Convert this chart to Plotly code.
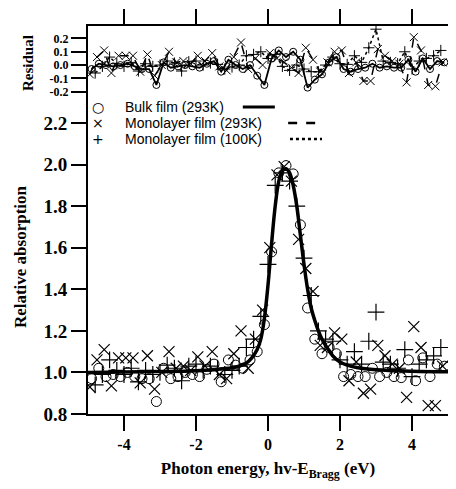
import plotly.graph_objects as go

# ---------------- data ----------------
bulk_x = [-4.9, -4.7, -4.5, -4.3, -4.1, -3.9, -3.7, -3.5, -3.3, -3.1,
          -2.9, -2.7, -2.5, -2.3, -2.1, -1.9, -1.7, -1.5, -1.3, -1.1,
          -0.9, -0.7, -0.5, -0.3, -0.1, 0.1, 0.3, 0.5, 0.7, 0.9,
          1.1, 1.3, 1.5, 1.7, 1.9, 2.1, 2.3, 2.5, 2.7, 2.9,
          3.1, 3.3, 3.5, 3.7, 3.9, 4.1, 4.3, 4.5, 4.7, 4.9]
bulk_y = [0.97, 1.02, 0.98, 0.99, 0.98, 1.00, 0.98, 0.97, 0.97, 0.86,
          1.02, 0.97, 0.98, 1.00, 0.99, 0.98, 1.015, 1.04, 0.955, 1.06,
          1.035, 1.02, 1.06, 1.10, 1.23, 1.58, 1.96, 1.995, 1.955, 1.71,
          1.31, 1.16, 1.09, 1.12, 1.09, 0.98, 0.99, 0.98, 0.98, 1.02,
          0.98, 1.00, 0.98, 0.975, 1.06, 0.96, 1.07, 0.98, 1.04, 1.03]
bulk_res = [-0.03, 0.01, 0.00, -0.01, 0.00, 0.01, -0.01, -0.03, -0.03, -0.15,
            0.02, -0.02, -0.01, 0.00, -0.01, -0.02, 0.01, 0.03, -0.05, 0.04,
            0.00, -0.03, 0.00, -0.08, -0.15, 0.05, 0.11, 0.06, 0.10, 0.04,
            -0.17, -0.11, -0.07, 0.02, 0.06, -0.03, -0.05, -0.03, -0.02, 0.01,
            -0.02, -0.01, -0.02, -0.02, 0.04, -0.05, 0.05, -0.03, 0.03, 0.02]

mono293_x = [-4.95, -4.75, -4.55, -4.35, -4.15, -3.95, -3.75, -3.55, -3.35, -3.15,
             -2.95, -2.75, -2.55, -2.35, -2.15, -1.95, -1.75, -1.55, -1.35, -1.15,
             -0.95, -0.75, -0.55, -0.35, -0.15, 0.05, 0.25, 0.45, 0.65, 0.85,
             1.05, 1.25, 1.45, 1.65, 1.85, 2.05, 2.25, 2.45, 2.65, 2.85,
             3.05, 3.25, 3.45, 3.65, 3.85, 4.05, 4.25, 4.45, 4.65, 4.85]
mono293_y = [0.93, 1.06, 1.11, 0.935, 1.07, 1.07, 1.07, 0.95, 1.08, 0.92,
             1.00, 1.10, 1.02, 1.03, 1.01, 1.075, 1.03, 1.10, 0.99, 0.97,
             1.09, 1.20, 1.02, 1.16, 1.30, 1.60, 1.95, 1.99, 1.92, 1.64,
             1.50, 1.39, 1.13, 1.12, 1.19, 1.16, 0.96, 1.05, 0.90, 0.92,
             1.13, 1.08, 1.04, 1.02, 0.88, 1.22, 1.12, 0.84, 0.84, 1.03]
mono293_res = [-0.07, 0.06, 0.11, -0.06, 0.07, 0.07, 0.07, -0.05, 0.08, -0.08,
               0.00, 0.10, 0.02, 0.03, 0.01, 0.07, 0.03, 0.09, -0.01, -0.04,
               0.06, 0.17, -0.03, 0.05, 0.00, 0.09, 0.05, 0.02, -0.02, -0.06,
               0.13, 0.04, -0.05, 0.02, 0.10, 0.11, -0.06, 0.02, -0.12, -0.12,
               0.12, 0.07, 0.03, 0.01, -0.13, 0.21, 0.11, -0.15, -0.16, 0.02]

mono100_x = [-4.8, -4.6, -4.4, -4.2, -4.0, -3.8, -3.6, -3.4, -3.2, -3.0,
             -2.8, -2.6, -2.4, -2.2, -2.0, -1.8, -1.6, -1.4, -1.2, -1.0,
             -0.8, -0.6, -0.4, -0.2, 0.0, 0.2, 0.4, 0.6, 0.8, 1.0,
             1.2, 1.4, 1.6, 1.8, 2.0, 2.2, 2.4, 2.6, 2.8, 3.0,
             3.2, 3.4, 3.6, 3.8, 4.0, 4.2, 4.4, 4.6, 4.8]
mono100_y = [0.94, 0.99, 1.06, 1.01, 0.99, 1.02, 0.955, 1.01, 0.99, 1.00,
             1.035, 1.02, 0.96, 1.03, 1.04, 1.01, 1.03, 1.02, 0.99, 1.01,
             1.03, 1.12, 1.16, 1.27, 1.52, 1.90, 1.96, 1.92, 1.80, 1.55,
             1.37, 1.20, 1.16, 1.15, 1.06, 1.04, 1.10, 1.04, 1.15, 1.29,
             1.05, 1.04, 1.02, 1.11, 0.98, 1.04, 1.06, 1.08, 1.12]
mono100_res = [-0.06, -0.01, 0.06, 0.01, -0.01, 0.02, -0.045, 0.01, -0.01, 0.00,
               0.03, 0.015, -0.045, 0.025, 0.03, 0.00, 0.015, 0.005, -0.03, -0.015,
               0.00, 0.07, 0.08, 0.10, 0.05, 0.08, -0.01, -0.04, 0.00, -0.03,
               -0.05, -0.05, 0.00, 0.06, 0.01, 0.005, 0.07, 0.02, 0.13, 0.27,
               0.03, 0.02, 0.01, 0.10, -0.03, 0.03, 0.05, 0.07, 0.11]

fit_x = [-5.0, -3.0, -2.0, -1.5, -1.0, -0.8, -0.6, -0.45, -0.3, -0.2,
         -0.1, 0.0, 0.1, 0.2, 0.3, 0.4, 0.5, 0.6, 0.7, 0.8,
         0.9, 1.0, 1.1, 1.2, 1.3, 1.4, 1.5, 1.6, 1.8, 2.0,
         2.2, 2.5, 3.0, 4.0, 5.0]
fit_y = [1.0, 1.004, 1.008, 1.013, 1.022, 1.03, 1.045, 1.07, 1.11, 1.16,
         1.26, 1.42, 1.62, 1.80, 1.92, 1.97, 1.98, 1.96, 1.90, 1.80,
         1.66, 1.52, 1.40, 1.31, 1.25, 1.20, 1.16, 1.13, 1.08, 1.05,
         1.035, 1.022, 1.013, 1.006, 1.003]

x_ticks = [-4, -2, 0, 2, 4]
x_ticktext = ["-4", "-2", "0", "2", "4"]
y_ticks = [0.8, 1.0, 1.2, 1.4, 1.6, 1.8, 2.0, 2.2]
y_ticktext = ["0.8", "1.0", "1.2", "1.4", "1.6", "1.8", "2.0", "2.2"]
r_ticks = [-0.2, -0.1, 0.0, 0.1, 0.2]
r_ticktext = ["-0.2", "-0.1", "0.0", "0.1", "0.2"]
legend_labels = ["Bulk film (293K)", "Monolayer film (293K)", "Monolayer film (100K)"]
legend_symbols = ["\u25cb", "\u00d7", "+"]

# ---------------- figure ----------------
SERIF = "Liberation Serif"
SANS = "Liberation Sans"
BLACK = "#000000"
TICK = 15
LW = 2


def b(labels):
    return ["<b>%s</b>" % t for t in labels]


def serif(s):
    return dict(family=SERIF, size=s, color=BLACK)


fig = go.Figure()

fig.add_trace(go.Scatter(x=fit_x, y=fit_y, mode="lines", line=dict(color=BLACK, width=2, dash="dot", shape="spline"),
                         xaxis="x", yaxis="y", hoverinfo="skip"))
fig.add_trace(go.Scatter(x=fit_x, y=fit_y, mode="lines", line=dict(color=BLACK, width=2, dash="dash", shape="spline"),
                         xaxis="x", yaxis="y", hoverinfo="skip"))
fig.add_trace(go.Scatter(x=fit_x, y=fit_y, mode="lines", line=dict(color=BLACK, width=3.5, shape="spline"),
                         xaxis="x", yaxis="y", hoverinfo="skip"))

fig.add_trace(go.Scatter(x=bulk_x, y=bulk_y, mode="markers", xaxis="x", yaxis="y",
                         marker=dict(symbol="circle-open", size=10, color=BLACK, line=dict(width=1, color=BLACK))))
fig.add_trace(go.Scatter(x=mono293_x, y=mono293_y, mode="markers", xaxis="x", yaxis="y",
                         marker=dict(symbol="x-thin-open", size=11, color=BLACK, line=dict(width=1.2, color=BLACK))))
fig.add_trace(go.Scatter(x=mono100_x, y=mono100_y, mode="markers", xaxis="x", yaxis="y",
                         marker=dict(symbol="cross-thin-open", size=12, color=BLACK, line=dict(width=1.2, color=BLACK))))

fig.add_trace(go.Scatter(x=mono100_x, y=mono100_res, mode="lines+markers", xaxis="x2", yaxis="y2",
                         line=dict(color=BLACK, width=1.5, dash="dot"),
                         marker=dict(symbol="cross-thin-open", size=8, color=BLACK, line=dict(width=1, color=BLACK))))
fig.add_trace(go.Scatter(x=mono293_x, y=mono293_res, mode="lines+markers", xaxis="x2", yaxis="y2",
                         line=dict(color=BLACK, width=1.5, dash="dash"),
                         marker=dict(symbol="x-thin-open", size=8, color=BLACK, line=dict(width=1, color=BLACK))))
fig.add_trace(go.Scatter(x=bulk_x, y=bulk_res, mode="lines+markers", xaxis="x2", yaxis="y2",
                         line=dict(color=BLACK, width=1.8),
                         marker=dict(symbol="circle-open", size=7, color=BLACK, line=dict(width=1, color=BLACK))))

SPLIT = 0.809
axis_common = dict(ticks="outside", ticklen=TICK, tickwidth=LW, tickcolor=BLACK,
                   showline=True, linewidth=LW, linecolor=BLACK,
                   showgrid=False, zeroline=False, automargin=False)

fig.update_layout(
    template="none",
    width=456, height=489,
    margin=dict(l=80, r=16, t=18, b=83),
    paper_bgcolor="white", plot_bgcolor="white",
    showlegend=False,
    xaxis=dict(domain=[0, 1], anchor="y", range=[-5, 5], tickmode="array", tickvals=x_ticks,
               ticktext=b(x_ticktext), tickfont=serif(16),
               title=dict(text="<b>Photon energy, hv-E<sub>Bragg</sub> (eV)</b>", font=serif(17), standoff=10),
               **axis_common),
    yaxis=dict(domain=[0, SPLIT], anchor="x", range=[0.8, 2.31], tickmode="array", tickvals=y_ticks,
               ticktext=b(y_ticktext), tickfont=serif(19), mirror=True,
               title=dict(text="<b>Relative absorption</b>", font=serif(17), standoff=12),
               **axis_common),
    xaxis2=dict(domain=[0, 1], anchor="y2", range=[-5, 5], side="top", tickmode="array", tickvals=x_ticks,
                showticklabels=False, **axis_common),
    yaxis2=dict(domain=[SPLIT, 1], anchor="x2", range=[-0.264, 0.294], tickmode="array", tickvals=r_ticks,
                ticktext=b(r_ticktext), tickfont=serif(12), mirror="ticks",
                title=dict(text="<b>Residual</b>", font=serif(15), standoff=12),
                **axis_common),
)

# legend built from text + line samples
rows_y = [0.791, 0.750, 0.709]
dashes = ["solid", "dash", "dot"]
line_x = [(0.430, 0.519), (0.556, 0.650), (0.561, 0.650)]
for i in range(3):
    fig.add_annotation(xref="paper", yref="paper", x=0.028, y=rows_y[i], text=legend_symbols[i],
                       showarrow=False, xanchor="center", yanchor="middle",
                       font=dict(family="DejaVu Sans", size=14, color=BLACK))
    fig.add_annotation(xref="paper", yref="paper", x=0.097, y=rows_y[i], text=legend_labels[i],
                       showarrow=False, xanchor="left", yanchor="middle",
                       font=dict(family=SANS, size=14, color=BLACK))
    fig.add_shape(type="line", xref="paper", yref="paper", x0=line_x[i][0], x1=line_x[i][1],
                  y0=rows_y[i], y1=rows_y[i], line=dict(color=BLACK, width=3 if i == 0 else 2.5, dash=dashes[i]))

fig.write_html("out.html")
